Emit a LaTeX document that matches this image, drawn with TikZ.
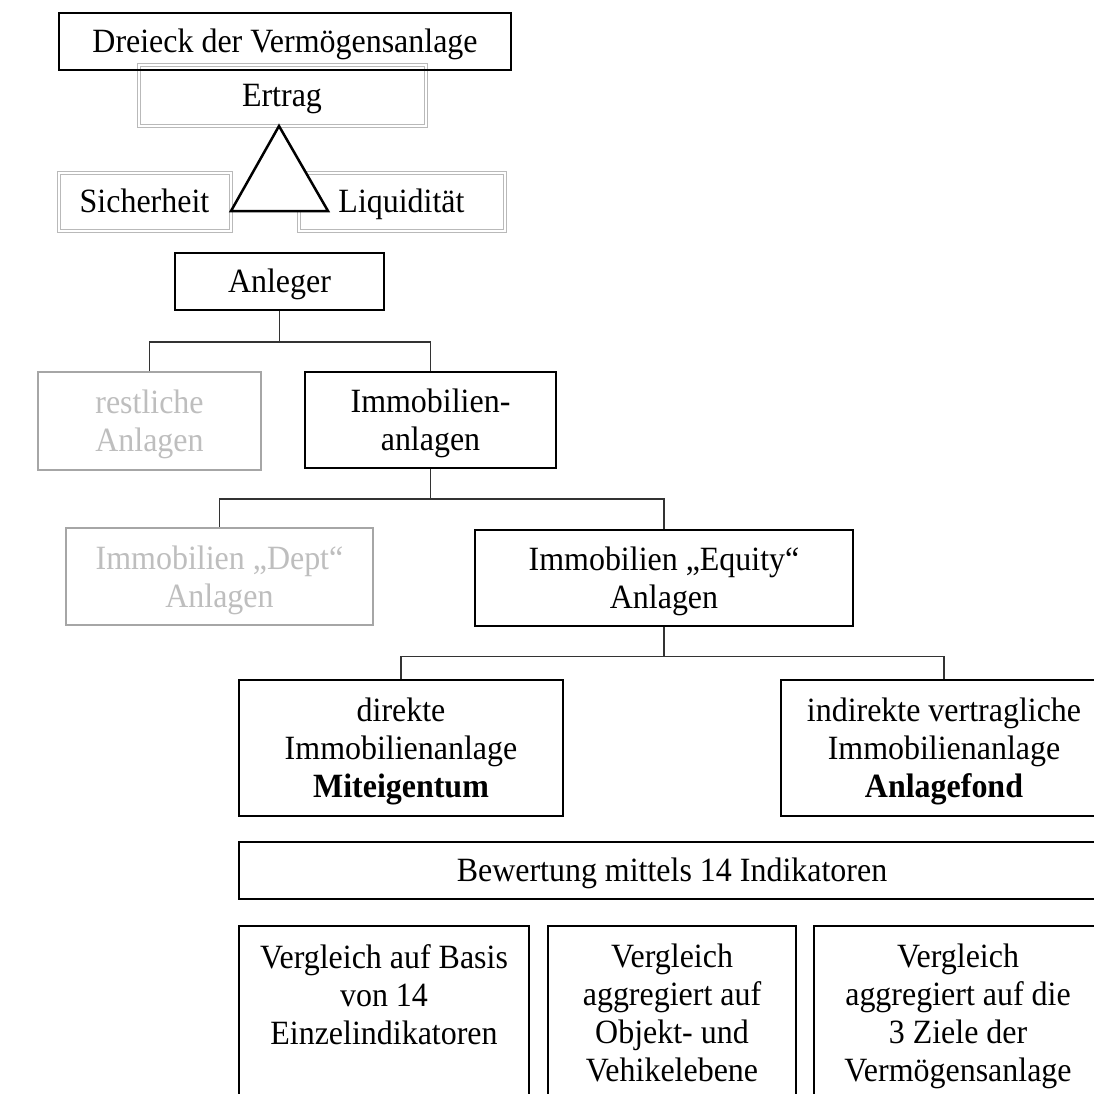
\documentclass[tikz,border=0pt]{standalone}
\usepackage{fontspec}
\setmainfont{Liberation Serif}[FakeStretch=0.94]
\definecolor{ghost}{RGB}{185,185,185}
\definecolor{greyline}{RGB}{166,166,166}
\definecolor{greytext}{RGB}{190,190,190}
\begin{document}
\begin{tikzpicture}[x=1pt,y=-1pt,
  base/.style={font=\fontsize{34}{38}\selectfont, align=center, inner sep=0pt, rectangle,
    execute at begin node={\rule{0pt}{30pt}}, execute at end node={\rule[-8pt]{0pt}{8pt}}},
  multi/.style={text depth=-3pt},
  four/.style={text depth=1pt},
  blackbox/.style={base, draw=black, line width=2pt},
  greybox/.style={base, draw=greyline, line width=2.5pt, text=greytext},
  ghostbox/.style={base, draw=ghost, line width=1pt, double=white, double distance=2pt},
  plain/.style={base, draw=none},
  conn/.style={draw=black!80, line width=1.2pt}]
\clip (0,0) rectangle (1094,1093);
\fill[white] (0,0) rectangle (1094,1093);
% top part
\node[ghostbox, minimum width=287, minimum height=61] (ertrag) at (282,95) {Ertrag};
\node[ghostbox, minimum width=172, minimum height=58] (sich) at (144.5,201.5) {Sicherheit};
\node[ghostbox, minimum width=206, minimum height=58] (liq) at (401.5,201.5) {Liquidität};
\node[blackbox, minimum width=452, minimum height=57] (title) at (285,41.5) {Dreieck der Vermögensanlage};
\coordinate (tA) at (279,126);
\coordinate (tB) at (231,211);
\coordinate (tC) at (328,211);
\draw[line width=2.5pt, line join=miter, fill=white] (tA) -- (tB) -- (tC) -- cycle;
% hierarchy
\node[blackbox, minimum width=209, minimum height=57] (anl) at (279.5,281.5) {Anleger};
\node[greybox, multi, minimum width=223, minimum height=98] (rest) at (149.5,421) {restliche\\Anlagen};
\node[blackbox, multi, minimum width=251, minimum height=96] (imm) at (430.5,420) {Immobilien-\\anlagen};
\node[greybox, multi, minimum width=307, minimum height=97] (dept) at (219.5,576.5) {Immobilien „Dept“\\Anlagen};
\node[blackbox, multi, minimum width=378, minimum height=96] (eq) at (664,577.5) {Immobilien „Equity“\\Anlagen};
\node[blackbox, multi, minimum width=324, minimum height=136] (dir) at (401,748) {direkte\\Immobilienanlage\\\textbf{Miteigentum}};
\node[blackbox, multi, minimum width=326, minimum height=136] (ind) at (944,748) {indirekte vertragliche\\Immobilienanlage\\\textbf{Anlagefond}};
\node[blackbox, minimum width=866, minimum height=57] (bew) at (672,870) {Bewertung mittels 14 Indikatoren};
\node[blackbox, minimum width=290, minimum height=175] (v1) at (384,1013.5) {};
\node[plain, anchor=north] (v1t) at (384,944) {Vergleich auf Basis\\von 14\\Einzelindikatoren};
\node[blackbox, four, minimum width=248, minimum height=175] (v2) at (672,1013.5) {Vergleich\\aggregiert auf\\Objekt- und\\Vehikelebene};
\node[blackbox, four, minimum width=288, minimum height=175] (v3) at (958,1013.5) {Vergleich\\aggregiert auf die\\3 Ziele der\\Vermögensanlage};
% connectors
\draw[conn] (anl.south) -- ++(0,31) coordinate (j1);
\draw[conn] (j1) -| (rest.north);
\draw[conn] (j1) -| (imm.north);
\draw[conn] (imm.south) -- ++(0,30) coordinate (j2);
\draw[conn] (j2) -| (dept.north);
\draw[conn] (j2) -| (eq.north);
\draw[conn] (eq.south) -- ++(0,30) coordinate (j3);
\draw[conn] (j3) -| (dir.north);
\draw[conn] (j3) -| (ind.north);
\end{tikzpicture}
\end{document}
